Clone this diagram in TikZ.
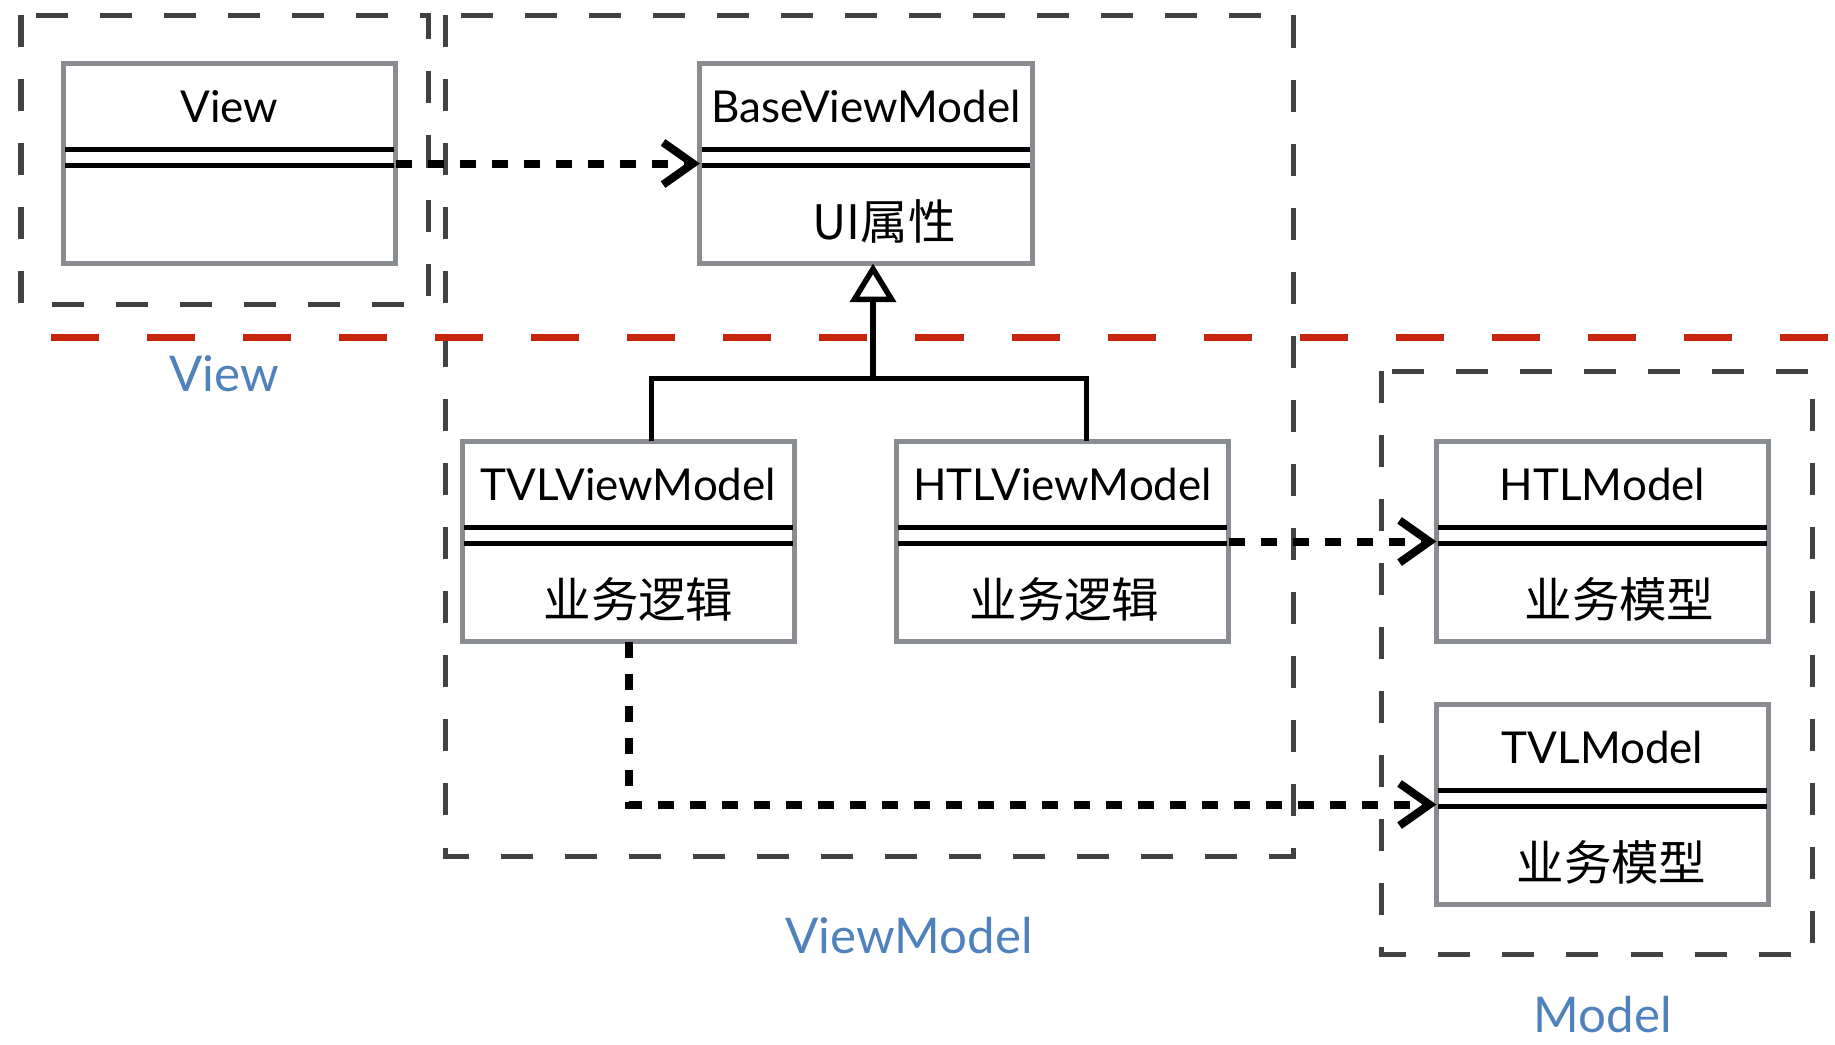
\documentclass[tikz,border=0pt]{standalone}
\usepackage{fontspec}
\setmainfont{Lato}
\newfontfamily\cjk{Noto Sans CJK SC}
\usetikzlibrary{arrows.meta,calc,positioning}

\definecolor{groupgray}{RGB}{66,66,66}
\definecolor{boxgray}{RGB}{137,140,144}
\definecolor{layerred}{RGB}{200,38,12}
\definecolor{labelblue}{RGB}{79,129,189}

% class box: name, centre x, centre y, title, body, body shift
\newcommand{\umlclass}[6]{
  \node [classbox] (#1) at (#2,#3) {};
  \node [classtitle] (#1-title) at ($(#1.north)+(0,43)$) {#4};
  \draw [sepline] ($(#1.north west)+(2,86)$) -- ($(#1.north east)+(-2,86)$);
  \draw [sepline] ($(#1.north west)+(2,102)$) -- ($(#1.north east)+(-2,102)$);
  \node [classbody] (#1-body) at ($(#1.north)+(#6,158)$) {#5};
}

\begin{document}
\begin{tikzpicture}[
    x=0.01cm, y=-0.01cm,
    classbox/.style={rectangle, draw=boxgray, line width=0.05cm, fill=white, minimum width=3.32cm, minimum height=2.0cm, outer sep=0pt, inner sep=0pt},
    classtitle/.style={font=\fontsize{12.5}{15}\selectfont, inner sep=0pt},
    classbody/.style={font=\cjk\fontsize{13.5}{16}\selectfont, inner sep=0pt},
    sepline/.style={line width=0.055cm, black},
    groupbox/.style={draw=groupgray, line width=0.05cm, dash pattern=on 0.32cm off 0.32cm},
    layerline/.style={draw=layerred, line width=0.07cm, dash pattern=on 0.48cm off 0.48cm},
    layerlabel/.style={text=labelblue, font=\fontsize{14}{17}\selectfont, inner sep=0pt},
    dep/.style={line width=0.08cm, dash pattern=on 0.16cm off 0.16cm, -{Straight Barb[length=8.5pt,width=12pt]}},
    inherit/.style={line width=0.055cm, -{Triangle[open,length=11pt,width=13pt]}},
    link/.style={line width=0.055cm}
]
\useasboundingbox (0,0) rectangle (1835,1045);

% layer frames
\draw [groupbox] (21,15) rectangle (428,304);
\draw [groupbox] (445,15) rectangle (1293,856);
\draw [groupbox] (1381,371) rectangle (1812,954);
\draw [layerline] (51,337) -- (1835,337);

% layer names
\node [layerlabel] (viewlabel) at (224,374) {View};
\node [layerlabel] (vmlabel) at (909,936) {ViewModel};
\node [layerlabel] (modellabel) at (1603,1015) {Model};

% classes
\umlclass{view}{229.5}{163.5}{View}{}{0}
\umlclass{base}{866}{163.5}{BaseViewModel}{UI属性}{18}
\umlclass{tvlvm}{628.5}{541.5}{TVLViewModel}{业务逻辑}{10}
\umlclass{htlvm}{1062.5}{541.5}{HTLViewModel}{业务逻辑}{2}
\umlclass{htlmodel}{1602.5}{541.5}{HTLModel}{业务模型}{17}
\umlclass{tvlmodel}{1602.5}{804.5}{TVLModel}{业务模型}{9}

% inheritance
\coordinate (fork) at ($(base.south)+(7,115)$);
\draw [inherit] (fork) -- (fork |- base.south);
\draw [link] ($(tvlvm.north)+(23,0)$) |- (fork) -| ($(htlvm.north)+(24,0)$);

% dependencies
\draw [dep] (view) -- (base);
\draw [dep] (htlvm) -- (htlmodel);
\draw [dep] (tvlvm) |- (tvlmodel);

\end{tikzpicture}
\end{document}
